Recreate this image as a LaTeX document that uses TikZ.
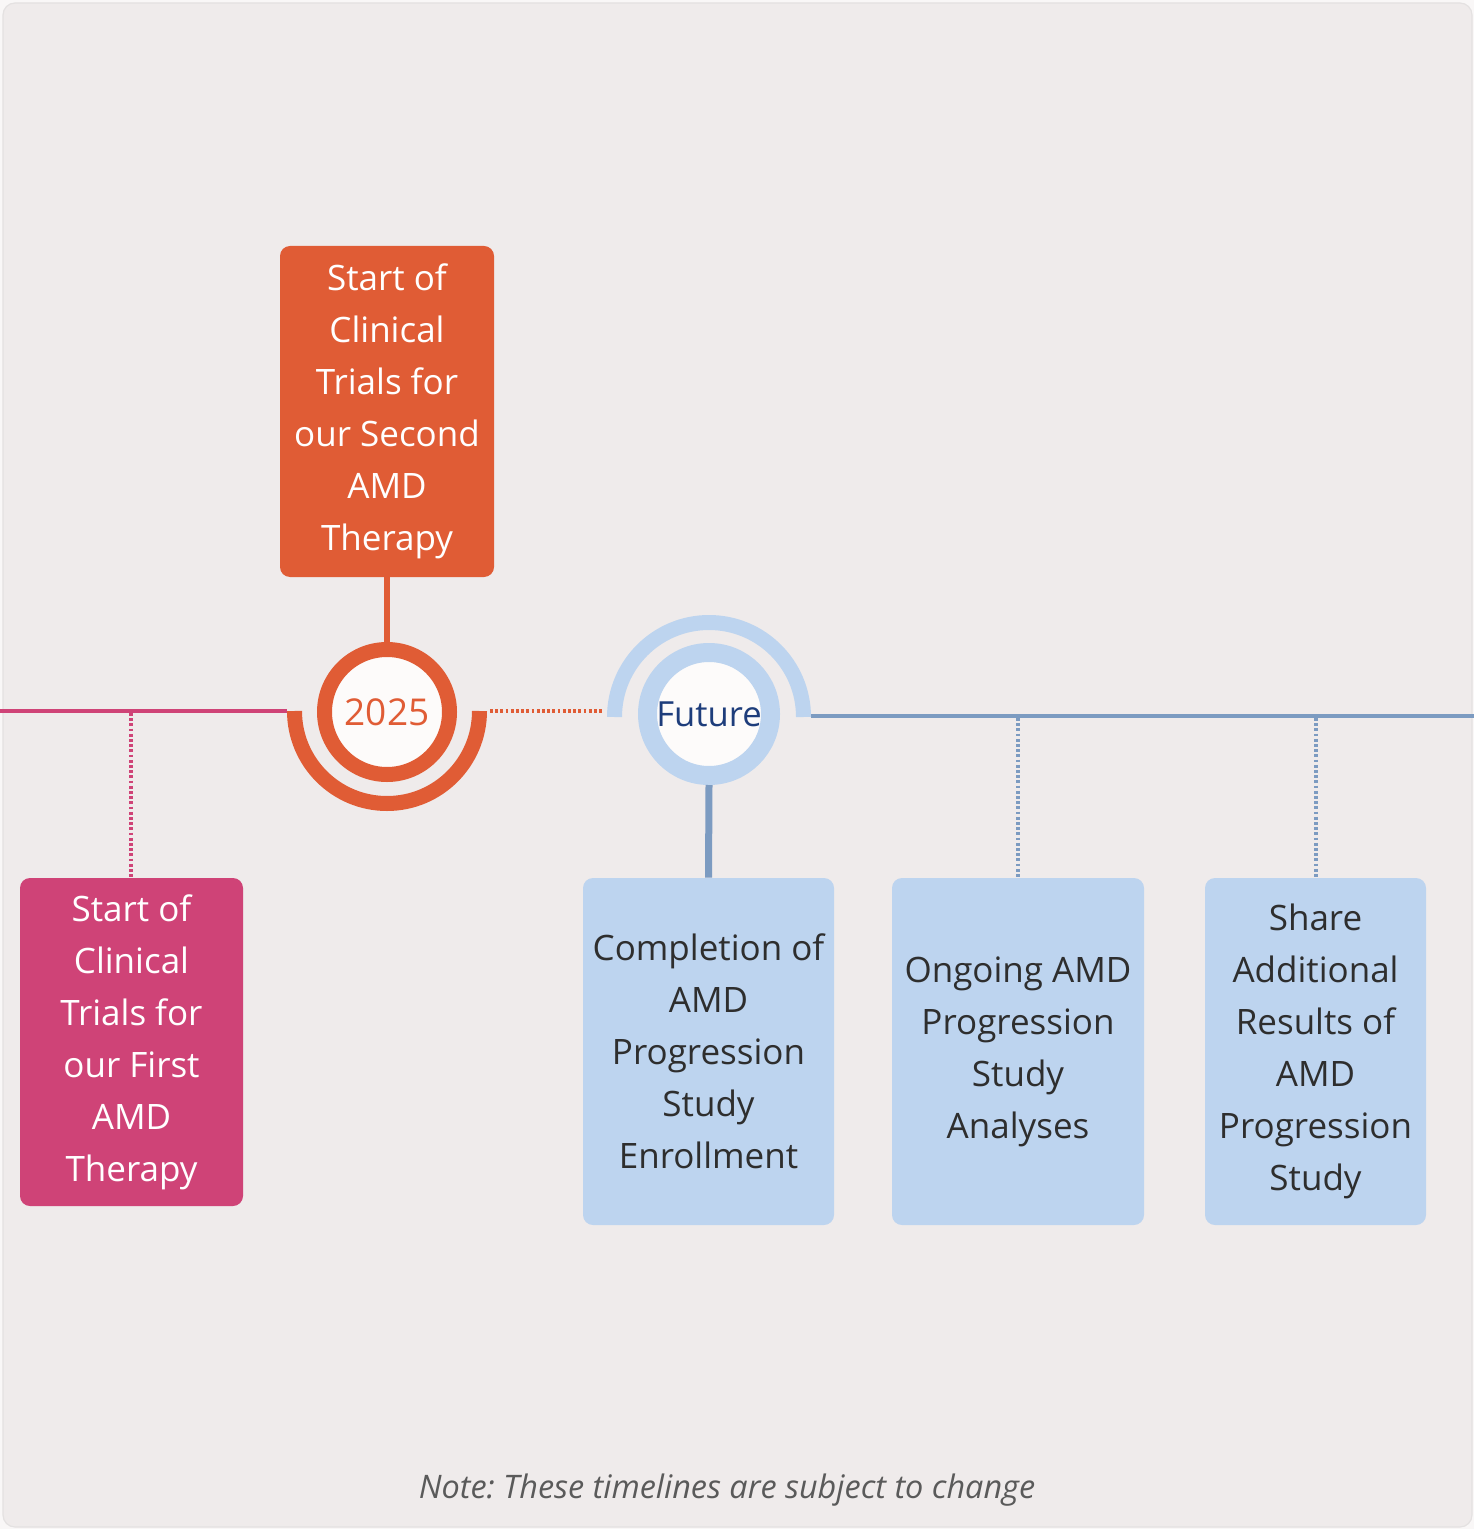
\documentclass[tikz,border=0pt]{standalone}
\usepackage{fontspec}
\setmainfont{Open Sans}
\newfontfamily\notefont{Open Sans}
\frenchspacing
\definecolor{bgc}{HTML}{EFEBEB}
\definecolor{cardline}{HTML}{E4E1E1}
\definecolor{pinkc}{HTML}{CF4377}
\definecolor{orangec}{HTML}{E05C35}
\definecolor{lbluec}{HTML}{BDD4EF}
\definecolor{sbluec}{HTML}{7C9BC1}
\definecolor{darktxt}{HTML}{2E2E2E}
\definecolor{futtxt}{HTML}{1E3D7B}
\definecolor{notec}{HTML}{5A5A5A}
\definecolor{whitec}{HTML}{FDFBFA}
\tikzset{
  evbox/.style={rounded corners=5pt, inner sep=0pt, align=center,
    font=\fontsize{17.5}{26}\selectfont},
  pinkbox/.style={evbox, fill=pinkc, text=white},
  orangebox/.style={evbox, fill=orangec, text=white},
  bluebox/.style={evbox, fill=lbluec, text=darktxt},
  pinkdot/.style={pinkc, line width=1.8pt, dash pattern=on 1.4pt off 1.2pt},
  bluedot/.style={sbluec, line width=1.8pt, dash pattern=on 1.4pt off 1.2pt},
  orangedot/.style={orangec, line width=1.8pt, dash pattern=on 1.4pt off 1.2pt},
}
\begin{document}
\begin{tikzpicture}[x=0.5pt,y=-0.5pt]
\useasboundingbox (0,0) rectangle (1474,1529);
\fill[white!60!bgc] (0,0) rectangle (1474,1529);
\draw[cardline, fill=bgc, line width=0.6pt, rounded corners=6pt] (3,3) rectangle (1472,1527);

% boxes
\node[pinkbox, minimum width=111.5pt, minimum height=164pt] (pbox) at (131.5,1042)
  {Start of\\Clinical\\Trials for\\our First\\AMD\\Therapy};
\node[orangebox, minimum width=107pt, minimum height=165.5pt] (obox) at (387,411.5)
  {Start of\\Clinical\\Trials for\\our Second\\AMD\\Therapy};
\node[bluebox, minimum width=125.5pt, minimum height=173.5pt] (b1) at (708.5,1051.5)
  {Completion of\\AMD\\Progression\\Study\\Enrollment};
\node[bluebox, minimum width=126pt, minimum height=173.5pt] (b2) at (1018,1051.5)
  {Ongoing AMD\\Progression\\Study\\Analyses};
\node[bluebox, minimum width=110.5pt, minimum height=173.5pt] (b3) at (1315.5,1051.5)
  {Share\\Additional\\Results of\\AMD\\Progression\\Study};

% timeline coordinates
\coordinate (pl0) at (0,711);
\coordinate (pl1) at (287,711);
\coordinate (pd0) at (131,713);
\coordinate (bl0) at (811,716);
\coordinate (bl1) at (1474,716);
\coordinate (bd1) at (1018,718);
\coordinate (bd2) at (1316,718);
\coordinate (od0) at (490,711);
\coordinate (od1) at (603,711);

\draw[pinkc, line width=2pt] (pl0) -- (pl1);
\draw[pinkdot] (pd0) -- (pbox.north -| pd0);
\draw[sbluec, line width=2pt] (bl0) -- (bl1);
\draw[bluedot] (bd1) -- (b2.north -| bd1);
\draw[bluedot] (bd2) -- (b3.north -| bd2);
\draw[orangedot] (od0) -- (od1);

% 2025 milestone
\node[circle, draw=orangec, line width=7.5pt, fill=whitec, minimum size=62.5pt, inner sep=0pt,
  text=orangec, font=\fontsize{18.5}{22}\selectfont] (c2025) at (387,712) {2025};
\draw[orangec, line width=7.5pt] ([xshift=-46.25pt,yshift=0.5pt]c2025.center) arc[start angle=180, end angle=360, radius=46.25pt];
\draw[orangec, line width=3pt] (obox.south) -- (c2025.north);

% Future milestone
\node[circle, draw=lbluec, line width=9.5pt, fill=whitec, minimum size=61.5pt, inner sep=0pt,
  text=futtxt, font=\fontsize{17.3}{21}\selectfont] (cfut) at (709,714) {Future};
\draw[lbluec, line width=7.5pt] ([xshift=-47.25pt,yshift=-1.5pt]cfut.center) arc[start angle=180, end angle=0, radius=47.25pt];
\draw[sbluec, line width=3.5pt] (cfut.south) -- (b1.north);

% note
\node[font=\notefont\itshape\fontsize{16.2}{20}\selectfont, text=notec] (note) at (727,1490)
  {Note: These timelines are subject to change};
\end{tikzpicture}
\end{document}
